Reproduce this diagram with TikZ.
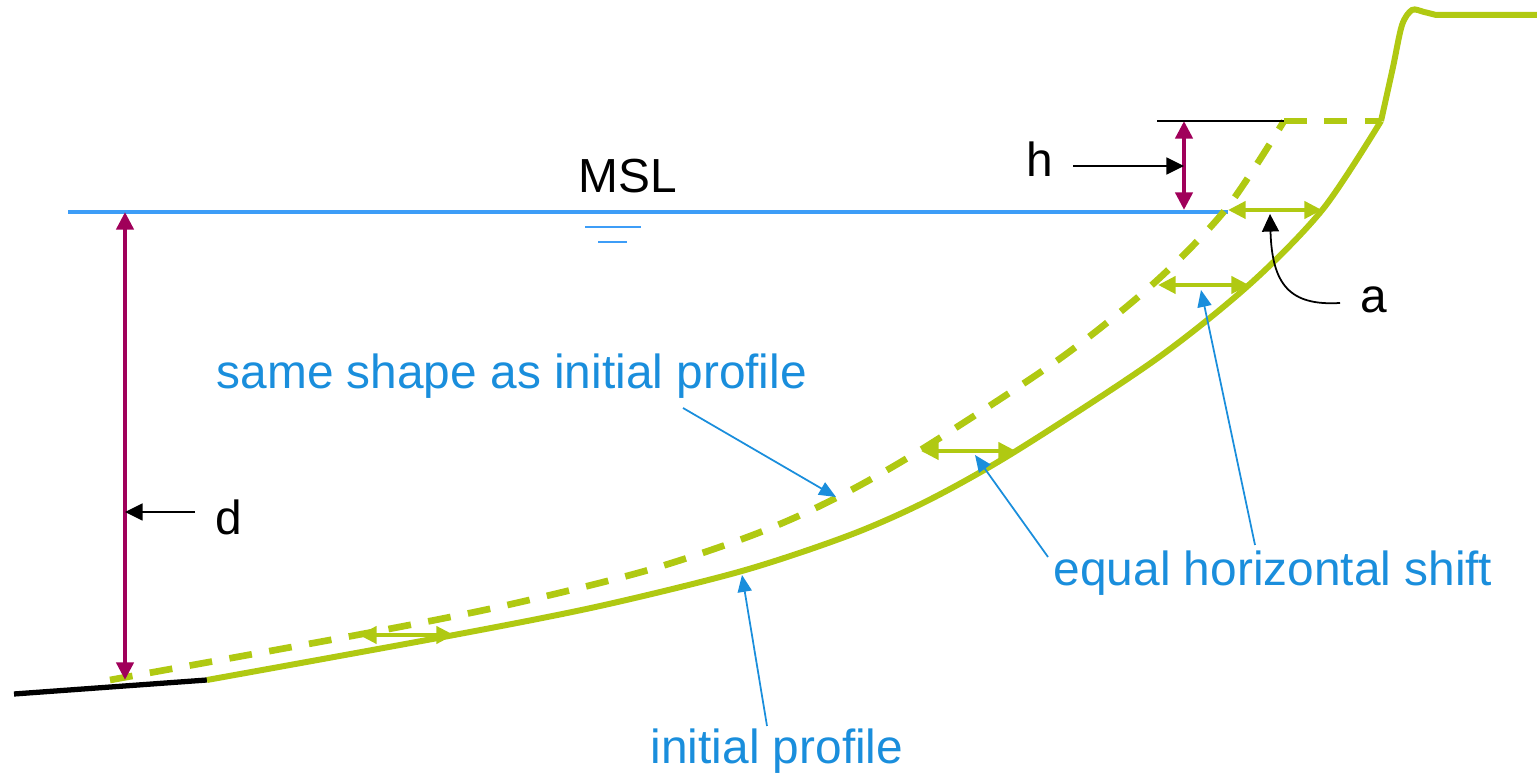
\documentclass[tikz,border=0pt]{standalone}
\usepackage{fontspec}
\setmainfont{Liberation Sans}
\usetikzlibrary{arrows.meta}
\definecolor{Lime}{HTML}{B0C912}
\definecolor{Wine}{HTML}{A0005A}
\definecolor{Sea}{HTML}{3D9DF7}
\definecolor{Sky}{HTML}{1A8EDC}

\begin{document}
\begin{tikzpicture}[x=.01cm,y=-.01cm,font=\fontsize{13.6}{16}\selectfont,>={Triangle[length=5pt,width=4.8pt]},
    txt/.style={anchor=base west,inner sep=0},
    leader/.style={Sky,line width=.5pt,-{Triangle[length=4.8pt,width=4pt]}},
    moved/.style={Lime,line width=1.2pt,<->},
    dimarrow/.style={Wine,line width=1.3pt,<->},
    solidprof/.style={Lime,line width=1.7pt},
    dashprof/.style={Lime,line width=1.9pt,dash pattern=on 6.5pt off 5pt}]
  \useasboundingbox (0,0) rectangle (1537,774);
  % sea level
  \coordinate (wl) at (68,212); \coordinate (wr) at (1228,212);
  \draw[Sea,line width=1.3pt] (wl) -- (wr);
  \draw[Sea,line width=.7pt] (585,227) -- (641,227) (598,242) -- (627,242);
  \node[txt] (msl) at (578,193) {MSL};
  % seabed, initial and shifted profile
  \coordinate (g0) at (14,694); \coordinate (g1) at (207,680);
  \draw[line width=1.5pt] (g0) -- (g1);
  \foreach \dx/\sty in {0/solidprof,-97/dashprof}
    \draw[\sty,xshift=\dx*.01cm] plot[smooth,tension=.5] coordinates {(207,680) (454,635) (600,606) (742,571) (850,535) (929,500) (1016,451) (1155,360) (1250,284) (1323,209) (1381,121)};
  \coordinate (c0) at (1284,121); \coordinate (c1) at (1381,121);
  \draw[dashprof] (c0) -- (c1);
  \draw[solidprof] plot[smooth,tension=.5] coordinates {(1381,121) (1393,67) (1402,25) (1412,10) (1424,12) (1436,15)} -- (1537,15);
  % equal shifts
  \foreach \i/\xa/\xb/\y in {1/1228/1322/210,2/1158/1249/285,3/921/1016/451,4/359/454/635}{
    \coordinate (l\i) at (\xa,\y); \coordinate (r\i) at (\xb,\y);
    \draw[moved] (l\i) -- (r\i);}
  % depth and rise
  \coordinate (d0) at (125,212); \coordinate (d1) at (125,680);
  \draw[dimarrow] (d0) -- (d1);
  \coordinate (h0) at (1184,121); \coordinate (h1) at (1184,210);
  \draw[dimarrow] (h0) -- (h1);
  \coordinate (t0) at (1157,121);
  \draw[line width=.5pt] (t0) -- (c0);
  \node[txt] (d) at (215,535) {d};
  \node[txt] (h) at (1026,177) {h};
  \node[txt] (a) at (1360,313) {a};
  \coordinate (dp) at (195,512); \coordinate (hp) at (1073,166);
  \draw[line width=.5pt,->] (dp) -- (dp -| d0);
  \draw[line width=.5pt,->] (hp) -- (hp -| h0);
  \coordinate (ap) at (1340,303); \coordinate (at) at (1270,214);
  \draw[line width=.5pt,->] (ap) .. controls (1290,306) and (1272,285) .. (at);
  % labels
  \node[txt,Sky] (same) at (216,389) {same shape as initial profile};
  \node[txt,Sky] (equal) at (1053,586) {equal horizontal shift};
  \node[txt,Sky] (init) at (650,764) {initial profile};
  \foreach \i/\xa/\ya/\xb/\yb in {1/683/408/836/497,2/1048/557/975/455,3/1255/545/1201/290,4/767/726/742/575}{
    \coordinate (p\i) at (\xa,\ya); \coordinate (q\i) at (\xb,\yb);
    \draw[leader] (p\i) -- (q\i);}
\end{tikzpicture}
\end{document}
